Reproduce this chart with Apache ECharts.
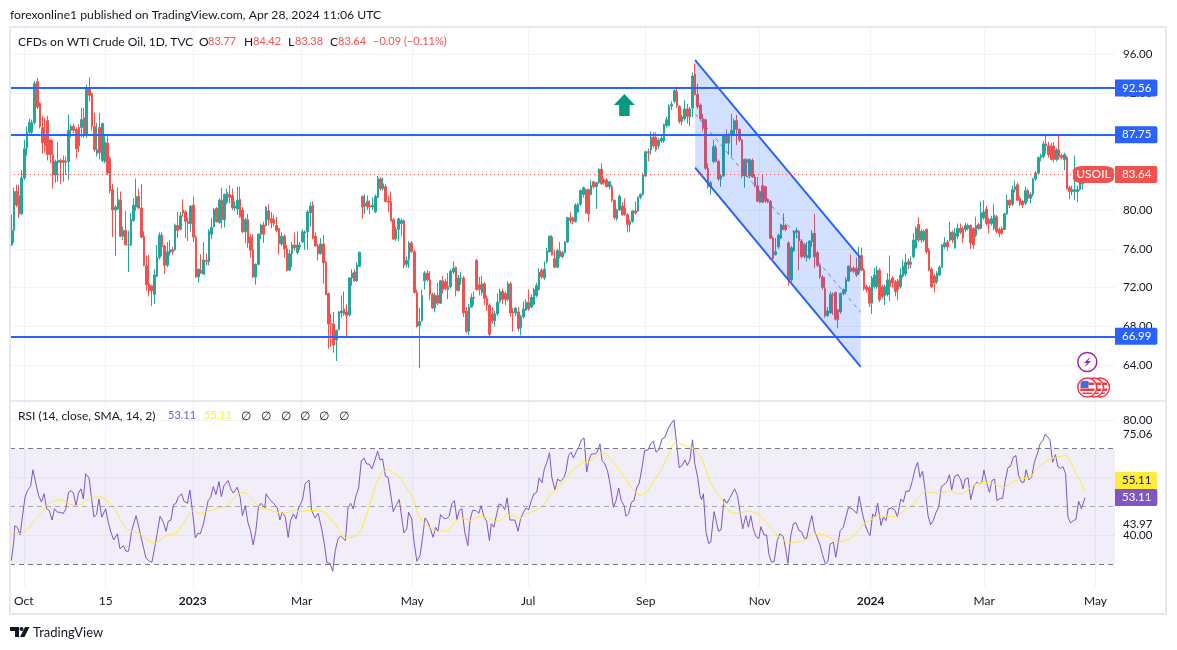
<!DOCTYPE html>
<html>
<head>
<meta charset="utf-8">
<title>USOIL</title>
<script src="https://cdn.jsdelivr.net/npm/echarts@6/dist/echarts.min.js"></script>
<style>
  html, body { margin: 0; padding: 0; background: #fff; }
  #main { width: 1177px; height: 650px; }
</style>
</head>
<body>
<div id="main"></div>
<script>
// every row is one daily bar: open, close, low, high
var ohlc = [
  [76.4,77.9,76.3,79.5],[77.9,81.9,76.6,82.3],[81.9,80.5,80.3,82.6],[81.5,79.6,79.2,82.6],[79.6,83.3,79.5,84.1],
  [83.3,86.3,83.1,87.2],[86.4,88,85.6,88.6],[88,89,87.7,89.4],[88,89,87.8,89.3],[89,93,88.8,93.3],
  [93.2,90.6,90.4,93.6],[91,88.6,88.4,91.1],[88.5,86.9,85.8,89.7],[87.6,86.6,85.9,89.5],[89.2,85.7,85.1,89.7],
  [87.2,85.7,84.8,87.3],[85.7,83.6,82.2,87.2],[83.6,85,82.8,85.2],[84.9,85.1,82.9,87],[85.1,84.9,82.7,85.3],
  [85.1,84.9,82.9,85.6],[84.9,85,83.6,85.5],[85,88.2,83.1,89.8],[88.2,88.6,87.5,88.8],[88.6,88.2,87.9,88.9],
  [88.3,86.3,85.3,88.5],[88.5,86.6,86,88.8],[88.5,89.3,87.5,90.5],[89.5,87.7,87.4,90.5],[87.7,92.5,87.4,92.9],
  [92.5,91.8,91.2,93.65],[92,88.6,88.2,92.1],[88.6,86.2,86,90],[85.8,86.2,85.5,89],[88.5,85.9,85.2,90],
  [85.1,88.9,84.9,89],[85,87,84.8,87.6],[86.9,83.8,83.6,87.7],[85.3,82,81.7,85.5],[82.1,80,77.2,82.7],
  [80,80.3,75.25,80.5],[80.1,81.1,80,82.3],[81,77.3,77.2,81.9],[77.3,77.9,76.9,78.3],[77.9,76.4,76.4,79.9],
  [76.4,76.4,73.6,77.9],[76.4,79,76.3,79.7],[78.9,80.5,78.8,81.2],[80.3,81.4,79.9,83.25],[81.4,80.2,80.1,82.2],
  [80.2,77.2,77.1,82.67],[77.3,74.3,74.2,77.8],[74.3,72.3,71.7,75.3],[72.4,71.7,71.1,75.4],[72.2,71.7,70.1,72.3],
  [71.3,73.3,70.3,73.9],[73.2,75.1,73.1,76.4],[75.1,77.4,74.9,77.7],[77.4,76.2,75.25,77.7],[76.3,74.3,73.4,76.4],
  [74.3,75.7,74.1,76.7],[75.6,75.9,75.3,76.9],[75.9,75.7,75.4,76.2],[75.9,78.45,75.8,78.6],[78.4,77.9,77.1,79.8],
  [78,79.4,77.9,79.8],[80,79.7,79.3,81.1],[79.8,78.8,77.1,80],[78.8,78.6,76.8,79.2],[78.6,80.4,77.75,80.5],
  [80.5,77.2,76.7,81.4],[77.2,73.1,73,77.4],[73.1,73.9,72.5,74],[73.8,73.5,73.4,75.45],[73.4,74.85,73.3,76.7],
  [74.8,74.7,74.3,75.5],[74.7,77.8,74.3,78],[77.5,78.2,77,79.2],[78.3,80.05,78.2,80.2],[80.15,78.8,78.7,80.3],
  [78.7,81,78.6,81.2],[81,79,78.1,82.3],[79,81.6,78.2,81.7],[80.8,81.8,80.6,82.2],[81.6,81.3,80.7,82.55],
  [81.5,80.2,80,82.2],[80.2,80.4,79.9,80.9],[80.1,81,79.5,82.4],[81.1,79.3,79.2,82.4],[80,77.75,77.6,80.3],
  [77.75,79,76.6,79.2],[79,76.6,76.1,79.6],[77.2,75.85,75.1,77.5],[75.9,73.1,73,77.5],[73.1,74.4,72.3,74.5],
  [74.4,77.5,74.3,77.6],[77.5,78.45,77,78.6],[78.45,77.5,76.6,78.8],[78.4,80.3,78.3,80.4],[79.9,79,78.4,80.6],
  [79.1,78.7,78.1,79.8],[79,78.6,78.3,79.5],[78.4,77.9,77.7,79.3],[78.1,76.5,75.4,78.1],[76.5,77.3,76.3,77.7],
  [77.3,76,75.1,77.5],[76,73.75,73.7,76.4],[73.8,75.5,73.7,75.9],[75.5,76.4,74.1,76.7],[76.4,76.1,75.8,77.7],
  [75.6,76.4,75.4,77.8],[76.2,76.4,75.9,76.7],[76.7,77.75,76.6,78],[77.6,77.75,75.9,77.9],[77.75,79.8,75.9,80],
  [79.7,80.4,78.3,80.8],[80.5,77.1,77,80.9],[77.3,76.3,76.2,77.7],[76.3,75.5,74.8,76.5],[75.5,76.5,75.4,77.1],
  [76.5,74.55,72.4,77.4],[74.6,71.3,71.2,74.8],[71.4,68.25,65.7,71.5],[68.3,68.2,65.9,69.3],[68.25,66.1,65.3,69.5],
  [66.6,67.6,64.45,67.7],[67.7,69.5,67.6,69.6],[69.4,69.6,68.9,71.2],[69.8,69.3,69.1,71.6],[69.5,69.1,67,70.3],
  [69.2,73,69,73.1],[73,73.5,72.2,73.9],[73.6,72.7,72.6,73.9],[72.7,74.3,72.6,74.6],[74.2,75.65,74.1,75.7],
  [81.4,80.3,79.1,81.5],[80.4,80.7,79.6,81.6],[80.9,80.3,80,81.5],[80.4,80.3,79.6,81],[80.3,80.5,80,81.3],
  [79.8,81.4,79.7,81.6],[81.3,83.25,81.2,83.5],[83.2,82.2,82,83.4],[82.2,82.7,82,83.3],[82.4,80.85,80.8,82.7],
  [80.9,80.8,79.8,81.5],[80.85,78.9,78.8,81.9],[79,77,76.9,79.2],[77,78,76.8,78.3],[78,79.1,76.8,79.2],
  [78.6,78.9,77.3,79.1],[78.9,74.3,74,79],[74.4,74.8,74.1,75.2],[74.9,76.6,74,76.8],[76.6,75.7,75.6,76.8],
  [75.7,71.5,71.4,75.9],[71.5,68,67.9,71.8],[68.1,68.5,63.7,69.9],[68.6,71.2,68.5,71.8],[72.7,73.5,71.8,73.7],
  [73.5,72.8,72.6,73.8],[72.8,71.3,70.7,73.7],[71.3,69.9,69.8,71.5],[69.9,71.2,69.5,71.5],[71.2,70.4,70.2,72.5],
  [70.4,72.7,70.3,72.8],[72.7,71.8,71.4,73.2],[72.6,71.9,71.7,72.9],[71.8,72.1,70.8,73.5],[72.1,73.7,71.9,73.9],
  [73.6,74,73.4,74.7],[74.1,71.7,71.1,74.2],[71.7,73,71.6,73.3],[73,73,72.3,73.6],[73,69.4,69,73.2],
  [69.6,67.5,67.3,70],[67.5,70,67.1,70.3],[70,71,69.9,71.4],[71,70.9,70.2,71.6],[74.8,71.8,71.7,74.95],
  [72.3,71.8,71.2,73.1],[71.5,72.4,71.2,73.2],[72.4,70.9,70.2,72.6],[70.9,70.2,69.6,71.2],[70.2,67.2,66.9,70.4],
  [69.3,68.6,68.3,70],[68.6,69.3,68,69.6],[69.3,70.5,69.1,71.4],[70.6,71.6,70.4,71.9],[71.6,70.8,70.3,71.9],
  [71.4,70.8,70.2,71.6],[70.8,72.4,70.6,72.7],[72.4,69.4,69,72.6],[69.5,69.4,67.5,69.9],[69.4,69.9,69.1,70],
  [69.5,67.8,67.5,70],[67.9,69,67.1,69.2],[69,69.8,68.8,70.6],[69.7,70.5,69.6,70.8],[70.5,69.8,69.6,71.8],
  [70,71,69.9,71.3],[70.3,71.8,70.2,72],[71.2,72.2,71,72.5],[71.8,73.6,71.7,74],[73.8,73.1,72.9,74],
  [73,73.9,72.8,74.7],[74.7,75.8,74.5,76.1],[75.7,77.3,75.6,77.4],[77.2,75.4,75.3,77.4],[75,74.1,74,75.9],
  [74.1,75.8,74,76],[75.8,75.2,75,76.7],[75.2,75.6,75,75.8],[75.6,76.7,75.5,76.8],[76.7,79.2,76.6,79.3],
  [79.2,78.9,78.6,79.8],[79.2,78.8,78.5,79.3],[78.8,80.5,78.7,80.7],[79.8,80.6,79.7,80.7],[80.6,82,80.4,82.1],
  [81.6,82.3,81.3,82.4],[82.1,79.7,79.6,82.2],[82.1,79.6,78.8,82.2],[81.6,82.5,81.5,83.1],[82.9,82.4,82.2,83],
  [82.4,82.8,80.1,82.9],[82.8,84.2,82.7,84.3],[84.2,82.7,82.6,84.8],[83.1,82.8,82.6,83.3],[83.1,82.4,82.3,83.3],
  [82.4,82.9,82.1,83],[82.4,81,80.8,82.6],[81,79.2,79,81.1],[79.1,80,78.9,80.1],[80,81.4,79.9,81.6],
  [80.4,79.5,79.4,80.8],[80.2,79.5,79.4,81.2],[79.5,78.5,77.7,79.7],[78.5,78.8,77.7,79],[78.8,79.9,78.7,80],
  [79.9,79.7,79.5,80.9],[79.9,81.3,79.8,81.4],[81.3,81.6,81.1,81.7],[81.6,83.6,81.5,83.8],[83.5,86,83.4,86.1],
  [86,85.9,85,86.3],[86.2,87.5,85.7,88.1],[87.5,86.6,86.4,88],[87.5,86.2,86,88],[86.6,87.2,86.3,87.4],
  [87.1,87.4,86.9,87.7],[87.1,88.8,86.9,88.9],[88.7,89.3,88.5,89.6],[88.7,90.7,88.6,90.9],[90.7,90.9,90.3,91.2],
  [91.2,92.3,91,92.4],[92.2,90.7,90.5,92.7],[90.65,89.1,88.9,90.8],[89.1,89.6,88.7,89.8],[89.4,90.4,89.2,91.3],
  [90.4,89.6,88.9,90.9],[89.6,90.4,88.6,90.6],[90.5,93.8,89.6,94.15],[94,91.9,91.8,95.05],[91.9,90.65,90.4,93],
  [90.8,89.4,89.2,91],[89.4,88.4,88.1,89.9],[89.3,84.3,84.1,89.4],[84.3,82.4,82.2,84.8],[82.4,82.8,81.55,83],
  [85,86.5,84.8,87.2],[86.4,85,84.9,86.7],[85,83.2,83,85.2],[83.2,83.5,82.4,83.7],[83.5,87.7,83.4,87.8],
  [87.7,86.9,86.8,88.3],[86.9,87.7,85.7,87.9],[87.7,88.2,85.5,89.9],[87.7,89.2,87.6,89.4],[89.2,88.3,86.7,89.8],
  [88.3,87.2,87,88.4],[87.2,83.5,83.3,87.3],[83.5,85.2,82.3,85.3],[85.2,84.9,83.4,85.3],[83.5,85.2,83.3,85.3],
  [85.1,83.4,83.3,85.3],[83.4,82.5,82.3,83.6],[82.5,80.9,80.8,83.4],[80.8,81.9,80.7,82],[82.5,80.8,80.7,83.6],
  [82.4,80.9,80.7,82.5],[81.1,80.9,80.7,81.2],[80.9,77.1,77,81],[77.1,75,74.9,77.3],[75.4,75.7,75.3,77.1],
  [76.2,77.4,76,77.6],[77.1,78.5,77,78.6],[78.4,78,77.9,79.65],[78.4,78,77.8,78.6],[76.6,72.8,72.2,76.8],
  [72.8,76.1,72.6,76.3],[75.8,77.8,75.7,77.9],[77.7,77.9,77.1,78.2],[77.8,76.8,73.8,77.9],[76.8,75.2,75,77],
  [76.4,75.2,75,76.6],[75.1,75.3,74.7,76.7],[75.1,76.8,74.9,76.9],[76.7,77.6,76.2,77.9],[77.6,75.2,74,79.6],
  [75.6,74.3,74.1,75.8],[74.3,73.1,72.9,74.4],[73.1,72,71.8,73.3],[71.9,69.1,68.9,73.1],[69.1,69.6,69,70],
  [69.4,71.3,69.3,71.6],[71.3,71.2,69.2,71.5],[71.5,68.75,68.6,71.6],[69.7,68.7,67.8,69.8],[69.5,71.4,69.3,71.5],
  [71.4,71.8,71.2,71.9],[71.6,72.8,71.4,73.1],[72.7,74.2,72.6,74.3],[74,73.7,73.6,75.4],[74,73.7,73.5,74.2],
  [74,73.3,73.1,75.1],[73.5,75,73.3,76.2],[75.3,73.8,73.7,76.1],[73.8,71.9,71.7,74],[72.1,71.8,71.5,72.3],
  [72,70.4,70,72.2],[70.4,73,69.3,73.2],[72.1,73.3,71.9,74],[72.1,73.8,71.9,74.2],[73.8,70.75,70.5,74],
  [72.1,71.1,70.9,72.3],[71.2,72.1,70.2,72.3],[71.3,72.8,71.1,73.5],[72.8,72.1,70.6,75.3],[73,72.5,72,73.2],
  [72.6,71.6,71.1,72.8],[72.7,71.8,70.7,72.9],[72.1,73.3,71.9,74],[73.2,74.2,73,74.9],[73.4,74.6,73.2,75.5],
  [74.7,74.4,73.9,75],[74.4,74.6,74,75.2],[75.2,76.9,75,77.6],[76.1,78.1,76,78.3],[78.5,76.9,76.7,79.25],
  [76.9,77.8,76.6,78],[76.9,77.8,76.7,78],[78,75.7,75.5,78.1],[75.9,73.8,73.7,76.1],[73.9,72.1,72,74.1],
  [73.2,72.5,71.5,73.4],[72.6,73.5,72.4,73.7],[73.3,74.1,73.2,74.3],[74.1,76.4,74,76.5],[76.2,76.6,76,77.2],
  [76.7,76.2,75.8,76.9],[76.9,77.75,76.7,78.8],[77.7,76.9,76.6,77.9],[76.1,77.6,76,78.1],[77.3,78.1,77,78.6],
  [78.1,77.7,77.5,78.6],[78.1,77.1,76.6,78.3],[78,78.4,77.7,78.7],[78.1,78.4,77.9,78.6],[78.4,76.6,76,78.5],
  [78.1,76.4,76,78.2],[77.4,78.4,77.2,79.3],[78.5,78.1,77.9,78.7],[78.1,79.7,78,80.9],[79.2,79.8,79,81],
  [80.1,78.6,78.4,80.4],[79,78.6,77.6,79.2],[78.6,79.1,78.4,79.4],[78.1,79.5,77.9,80.6],[79.3,77.8,77.6,79.5],
  [78,77.6,77.2,78.2],[78.1,77.6,77.4,78.3],[78,79.6,77.9,79.7],[79.6,81,79.5,81.6],[81,80.5,80.2,81.1],
  [80.6,82.1,80.4,82.5],[82.1,82.4,81.8,83],[82.6,81,80.9,82.8],[81.2,80.6,80.4,81.4],[80.9,80.5,80.2,81],
  [80.7,82,80.5,82.4],[82,81.2,80.9,82.2],[81.2,81.6,80.7,81.8],[81.6,83.2,81.4,83.3],[83.2,83.8,83,84],
  [83.8,85.4,83.7,85.5],[85.4,85.6,85,85.8],[85.5,86.8,85.3,87.1],[86.8,86.6,85.8,87.63],[86.6,85.7,85.4,87],
  [86.6,85.2,85.1,86.9],[86.6,85.2,84.9,87],[85.2,86.2,85,86.4],[86.2,85.5,85.2,87.6],[85.6,85.4,85.2,85.8],
  [85.2,85.7,84.1,85.9],[85.4,82.2,82.1,85.6],[82.3,81.9,81.1,82.5],[81.9,82.1,81.5,82.5],[81.9,82.1,81,85.6],
  [81.9,82.1,80.8,82.5],[82.1,82.8,82,83.2],[82.7,83.1,82.1,83.5],[83.77,83.64,83.38,84.42]
];

// RSI: bar position, value
var rsiPoints = [
  [0,31.2],[1,38.2],[1.3,43.3],[2.3,42.8],[3.4,40.1],[4.4,47.4],[5.3,53.2],[6.2,55.5],[7.4,56.9],[8.3,62.7],
  [9.5,57.8],[10.5,53.8],[11.6,51.5],[12.6,54.4],[13.6,49.2],[14.6,48.6],[15.7,45.3],[16.6,49.2],[17.7,48],[18.7,48],
  [20,47.6],[21,49.2],[22,54.9],[23,55.5],[23.9,54.6],[24.9,50.3],[25.8,54.6],[26.8,56.1],[27.7,52.6],[28.6,61.3],
  [29.9,59.9],[30.8,53.2],[31.8,46.3],[32.8,47.2],[33.7,52.6],[34.8,46.3],[36.3,49.2],[37.3,44.5],[38.3,41.1],[39.4,38.4],
  [40.8,40.5],[41.8,35.3],[43.1,36.4],[44.1,34.5],[45.1,34.5],[46.3,41.6],[48,46.8],[49.2,42.2],[50.5,37],[51.8,32.2],
  [53.1,31],[54.1,30.7],[55.3,36.4],[56.2,41.1],[57.2,46.6],[58.5,44.5],[59.5,41.4],[60.4,44.9],[61.4,45.3],[62.4,50.7],
  [63.2,50.9],[64.2,53.2],[65.5,54.4],[66.4,51.8],[67.7,51.1],[68.7,55.7],[69.8,47.4],[70.8,39.1],[71.8,40.7],[72.7,40.5],
  [73.9,44],[74.6,44],[75.7,52],[76.7,53.2],[77.7,56.9],[78.7,54.1],[79.9,58.6],[80.8,53.4],[81.8,57.2],[83.4,59],
  [84.4,56.1],[85.4,54.6],[86.9,56.7],[88,53.2],[88.9,46.8],[90,50.3],[91,44.5],[92,41.6],[93,36.7],[94,41.1],
  [95,49.5],[96,51.1],[97.5,49.5],[98,54.4],[99.2,52.6],[100.8,51.2],[102.3,49.5],[103.3,45.3],[104.2,48],[105.4,46.3],
  [106.5,39.3],[107.4,45.1],[108.5,47.4],[109.5,45.7],[110.5,49.5],[112,52.3],[113,57.8],[114.5,59.2],[115.5,48.6],[116.8,46],
  [118,47.6],[119.4,42.2],[120.4,37],[121.4,30.4],[122.6,30.3],[123.6,27.5],[124.6,34.7],[125.7,38.8],[126.7,39.7],[128.5,38.2],
  [129.5,49.5],[130.5,51.1],[131.5,49.2],[132.6,53.8],[133.6,56.4],[134.6,65.7],[135.6,66.8],[136.7,64.7],[137.7,64.7],[138.7,63],
  [139.8,65.9],[140.9,69.1],[141.8,66.1],[142.8,66.5],[143.9,60.4],[144.9,60.1],[145.9,54.4],[146.9,48.2],[148.2,50.7],[149.2,52.4],
  [151,40.8],[152.1,42.2],[152.8,48],[154,45.7],[155,37],[156,31],[157.2,33],[158.2,39.3],[159.1,46],[160.1,44.9],
  [161.2,42.2],[162.2,39.3],[163.2,42.8],[164.1,41.4],[165.1,47.2],[166.2,46],[167.2,45.7],[168.4,46.5],[169.4,50.9],[170.4,52],
  [171.4,45.5],[172.3,48.6],[173.3,49.2],[174.4,41.1],[175.6,36.4],[176.4,45.1],[177.4,48.6],[178.7,48.6],[179.8,47.6],[180.7,50.3],
  [181.8,46.3],[182.8,44.9],[183.9,38.2],[184.6,44],[185.6,42.8],[186.7,47.4],[187.6,50.9],[188.9,50.3],[189.8,48.9],[190.7,53],
  [191.8,45.3],[193.7,45.3],[194.9,41.4],[195.9,45.7],[197,48],[198,49.5],[199,48.8],[200,52],[201,54.4],[202.1,54.9],
  [203,59.9],[204.1,58.2],[205,63],[206,65.3],[207,68.6],[207.9,60.1],[209.1,55.7],[210.1,59.5],[211.3,58.7],[212.6,60.1],
  [213.4,62.4],[214.3,67.6],[215.3,68.8],[216.2,66.8],[217.2,68.8],[218.2,70.5],[219.3,73.1],[220.3,73.7],[221.3,61.9],[222.3,66.5],
  [223.2,68.2],[224.5,68.2],[225.4,68.8],[226.4,71.7],[227.2,65.9],[228.3,64.7],[229.3,62.4],[230.3,57.8],[231.6,49.7],[232.6,52],
  [233.6,56.4],[234.6,52],[235.7,50.3],[236.4,46.6],[237.4,47.4],[238.5,51.5],[239.5,52],[240.5,56.4],[241.5,58],[242.6,63.6],
  [243.6,69.4],[244.9,69.6],[245.9,71.7],[246.9,72.6],[248,68.8],[249,69.6],[250.3,73.4],[251.4,74],[252.6,76.9],[253.6,78.6],
  [254.9,80],[255.9,71.7],[256.9,63.4],[258,64.2],[259.1,66.1],[260,64.2],[261,66.1],[262,73.1],[262.9,64.7],[264,60.1],
  [264.9,53.8],[265.5,52.3],[266.2,54.4],[267.2,41.1],[268.2,37.2],[269,37.6],[270.3,48.2],[271,48],[272,41.4],[273,41.9],
  [274.1,52.6],[275.2,51.1],[276.4,53],[278.2,56.1],[279.3,53.8],[281.3,42.2],[282.5,46.8],[283.5,42.8],[284.4,46.8],[285.4,42.2],
  [286.4,39.6],[287.5,38.8],[288.3,43],[289.5,40.1],[290.5,40.1],[291.4,33.3],[292.4,30.7],[293.4,30.9],[294.6,38.2],[295.6,40.5],
  [296.9,39.6],[297.8,35.3],[298.7,30.3],[299.8,39.9],[300.8,44],[301.8,44.3],[303,41.6],[303.9,41.3],[304.9,39.1],[305.9,38.8],
  [306.9,43.4],[307.9,46.8],[308.9,41.6],[310,39.1],[311,36.8],[312,33.3],[313.1,30.1],[314.1,30.9],[314.9,37],[316.2,37.6],
  [317.1,32.4],[318.8,41.6],[320,42.8],[321,46.3],[322,49.7],[323.3,49.2],[325.2,47.6],[326.1,53.5],[327.4,47.4],[328.5,43.4],
  [329.5,41.1],[330.3,39.9],[331.3,47.4],[332.2,46.3],[333.2,51.1],[334.5,43.4],[335.4,46.3],[336.4,45.1],[337.3,49.2],[338.6,49.5],
  [339.9,48.6],[340.8,46.3],[342.1,52.6],[343.1,51.5],[344.1,55.3],[345.4,55.3],[346.6,59],[347.6,63],[348.6,65.3],[349.5,60.1],
  [350.5,62.2],[351.5,55.5],[352.6,46.8],[353.6,43.7],[354.6,45.1],[355.7,48],[356.7,49.7],[357.7,56.9],[358.7,57.6],[359.8,58.4],
  [360.8,61],[361.7,55.7],[362.8,60.4],[364.1,61],[365.2,59.2],[366,56.1],[366.9,59.5],[368,59.9],[369,52.3],[370.3,57.2],
  [371.3,58.4],[372.3,57.8],[373.3,58.4],[374.1,62.7],[375.1,58.4],[376.2,54.9],[377.2,59],[378.2,59.5],[379.1,52],[380.3,52.8],
  [381.3,52.8],[382.3,59],[383.3,63.4],[384.3,63.9],[385.4,67.1],[386.4,67.6],[387.4,60.7],[388.5,58.4],[389.5,58.4],[390.3,62.7],
  [391.4,59.2],[392.4,60.1],[393.5,65.3],[394.6,68.2],[395.7,71.7],[396.7,72.8],[397.7,75.1],[399.5,73],[400.5,65.3],[401.6,68],
  [402.5,63.8],[403.5,63.2],[404.5,63.8],[405.5,61.3],[406.4,46.3],[407.4,44.3],[408.5,45.1],[409.5,45.5],[410.5,51.8],[411.6,49.2],
  [413,53.11]
];

// RSI moving average: bar position, value
var rsiMaPoints = [
  [0,40.7],[1.4,41.1],[3.3,40.5],[5.3,41.3],[7.2,43],[9.1,45.5],[11,47.4],[13,49.7],[14.9,51.5],[16.8,52],
  [18.5,52.4],[20.7,51.7],[22.6,50.7],[24.9,50.3],[26.8,50.7],[28.7,52.3],[30.9,53],[34.1,53.4],[36,52.6],[37.9,51.1],
  [39.9,49.2],[41.8,45.7],[43.7,43],[45.7,41.4],[47.6,41.3],[49.5,40.5],[51.4,39.1],[53.3,37.8],[55.3,37.2],[57.2,38.4],
  [59.1,39.7],[61,40.3],[63,40.5],[64.9,42.2],[66.8,45.1],[68.7,47.6],[70,48.6],[72.2,47.6],[74.5,48],[76.4,48.6],
  [79,49.2],[82.8,50],[84.8,52],[86.7,54.1],[88.6,54.9],[90.5,54.6],[92.5,52.6],[94.4,50.7],[96.3,49.5],[98.2,49.2],
  [100.1,48.6],[102,48],[104.6,47.6],[106.5,48],[108.5,48.6],[111,48.1],[113.6,48.6],[116.8,48.6],[120,48.3],[121.9,46.8],
  [123.9,44.5],[126.4,41.3],[128.4,39.1],[130.3,39.1],[132.8,39.9],[134.8,42.2],[136.7,47.4],[138.6,52.6],[140.5,58.4],[142.4,61.9],
  [145,62.7],[146.9,61.9],[149.2,60.1],[152.1,56.4],[154.4,53.2],[156.6,46.8],[158.5,44.5],[161.7,42.2],[163.9,41.1],[166.2,41.6],
  [168.1,41.4],[170,44.2],[173.2,46],[176.4,45.1],[179.6,46.6],[182.8,46.3],[186,44.9],[187.9,45.1],[190.5,47.2],[193.1,46.8],
  [195.7,45.7],[198.2,47.4],[202.1,48.8],[204.6,50.3],[207.2,53.8],[209.8,56.3],[212.3,58.4],[215.5,62.4],[220,65.3],[221.9,65.3],
  [225.1,67.6],[227,68.6],[229,67.9],[231.6,65.3],[234.1,62.4],[236.7,59],[239.2,55.5],[241.8,53.8],[244.4,54.9],[246.9,58.4],
  [249.5,61.9],[252,66.5],[254.6,71.7],[256.6,72],[259.7,70.9],[262.9,69.9],[265.5,66.5],[268,60.7],[268.9,58],[271.3,54.9],
  [273.8,51.5],[276.4,48],[280.2,47.4],[283.5,48.6],[287.3,47.4],[290.5,44.5],[294.4,39.9],[298.8,37.2],[303,37.8],[305.3,38.2],
  [307.9,40.5],[312.3,40.3],[314.9,39.1],[318.1,37.6],[322.6,38.8],[325.2,41.1],[327.7,44],[330.3,45.1],[332.8,46.8],[340.5,46.5],
  [344.4,49.2],[347,50.9],[349.5,53.8],[351.5,55.2],[357.2,54.4],[361,55.5],[363.6,54.4],[366.2,54.4],[370,57.5],[373.9,58.4],
  [377.7,58],[381.6,56.4],[385.4,58.6],[388,59.5],[391.8,59.9],[395,63.6],[398.2,65.9],[402,67.1],[405.9,67.7],[407.8,64.7],
  [411,59],[413,55.11]
];

var priceLevels = [92.56, 87.75, 66.99];
var lastPrice = 83.64;
var lastRsi = 53.11;
var lastRsiMa = 55.11;
// the yellow tag is pushed up off the purple one on the axis, it sits on this row
var lastRsiMaTagRow = 59;
var rsiDivergenceLabels = [75.06, 43.97];
var priceTicks = [64, 68, 72, 76, 80, 84, 88, 92, 96];
var rsiGridTicks = [40, 60, 80];
var rsiLabelTicks = [40, 80];
var rsiBands = [70, 50, 30];
var timeTickBars = [4.8, 36.3, 69.8, 111.7, 154.2, 198.8, 244, 287.8, 330.5, 374.2, 417];
var timeTickLabels = ['Oct', '15', '2023', 'Mar', 'May', 'Jul', 'Sep', 'Nov', '2024', 'Mar', 'May'];
// falling channel drawn on the price pane
var channelBars = [263, 326.7];
var channelTop = [95.44, 75.05];
var channelMid = [89.9, 69.45];
var channelBottom = [84.35, 63.85];
var arrowSpot = [235.8, 90.81];
var tagSpot = 416.2;

var FONT = 'Lato';
var DARK = '#131722';
var UP = '#26a69a';
var DOWN = '#ef5350';
var BLUE = '#2962ff';
var PURPLE = '#7e57c2';
var YELLOW = '#ffeb3b';
var GRID = '#f0f3fa';
var FRAME = '#e6e8ee';

var candleData = ohlc.map(function(row, i) {
  return [i, row[0], row[1], row[2], row[3]];
});

// area above 70 only, the flat part stays on the origin
var overboughtData = rsiPoints.map(function(p) {
  return [p[0], Math.max(p[1], 70)];
});

function tagLabel(bg, color, text) {
  return {
    show: true, position: 'end', distance: 0, align: 'left',
    formatter: function(p) { return (text === undefined ? p.value : text).toFixed(2); },
    fontFamily: FONT, fontSize: 11.5, color: color,
    backgroundColor: bg, padding: [3, 6, 2, 7], borderRadius: [0, 2, 2, 0]
  };
}

function hiddenLine() {
  return { width: 1, color: 'rgba(0,0,0,0)', opacity: 1 };
}

var priceLines = priceLevels.map(function(v) {
  return { yAxis: v, lineStyle: { color: BLUE, width: 2, type: 'solid' }, label: tagLabel(BLUE, '#fff') };
});
priceLines.push({ yAxis: lastPrice, lineStyle: { color: DOWN, width: 1, type: [1, 3] }, label: tagLabel(DOWN, '#fff') });

var rsiLines = rsiBands.map(function(v) {
  return {
    yAxis: v,
    lineStyle: { color: v === 50 ? 'rgba(120,123,134,0.6)' : '#787b86', width: 1, type: [5, 4] },
    label: { show: false }
  };
});
rsiDivergenceLabels.forEach(function(v) {
  var lab = tagLabel('#fff', DARK);
  lab.padding = [1, 6, 1, 8];
  rsiLines.push({ yAxis: v, lineStyle: hiddenLine(), label: lab });
});
rsiLines.push({ yAxis: lastRsiMaTagRow, lineStyle: hiddenLine(), label: tagLabel(YELLOW, DARK, lastRsiMa) });
rsiLines.push({ yAxis: lastRsi, lineStyle: hiddenLine(), label: tagLabel(PURPLE, '#fff') });

function timeAxis(gridIndex, showLabels) {
  return {
    type: 'value', gridIndex: gridIndex, min: -0.5, max: 424.5,
    axisLine: { show: false },
    axisTick: { show: false, customValues: timeTickBars },
    splitLine: { show: true, lineStyle: { color: GRID, width: 1 } },
    axisLabel: {
      show: showLabels, customValues: timeTickBars, margin: 8,
      fontFamily: FONT, fontSize: 12, color: DARK,
      hideOverlap: false, showMinLabel: true, showMaxLabel: true,
      formatter: function(v) {
        var text = timeTickLabels[timeTickBars.indexOf(v)];
        return /^20/.test(text) ? '{b|' + text + '}' : text;
      },
      rich: { b: { fontFamily: FONT, fontSize: 12, fontWeight: 'bold', color: DARK } }
    }
  };
}

function priceAxis(gridIndex, min, max, gridTicks, labelTicks) {
  return {
    type: 'value', gridIndex: gridIndex, position: 'right', min: min, max: max,
    axisLine: { show: false },
    axisTick: { show: false, customValues: gridTicks },
    splitLine: { show: true, lineStyle: { color: GRID, width: 1 } },
    axisLabel: {
      customValues: labelTicks, margin: 8, fontFamily: FONT, fontSize: 11.5, color: DARK,
      formatter: function(v) { return v.toFixed(2); }
    }
  };
}

// channel fill, its three lines
function renderChannel(params, api) {
  var a = api.coord([channelBars[0], channelTop[0]]),
    b = api.coord([channelBars[1], channelTop[1]]),
    c = api.coord([channelBars[1], channelBottom[1]]),
    d = api.coord([channelBars[0], channelBottom[0]]),
    m0 = api.coord([channelBars[0], channelMid[0]]),
    m1 = api.coord([channelBars[1], channelMid[1]]);
  return {
    type: 'group',
    children: [
      { type: 'polygon', shape: { points: [a, b, c, d] }, style: { fill: 'rgba(41,98,255,0.2)' } },
      { type: 'line', shape: { x1: a[0], y1: a[1], x2: b[0], y2: b[1] }, style: { stroke: BLUE, lineWidth: 2 } },
      { type: 'line', shape: { x1: d[0], y1: d[1], x2: c[0], y2: c[1] }, style: { stroke: BLUE, lineWidth: 2 } },
      { type: 'line', shape: { x1: m0[0], y1: m0[1], x2: m1[0], y2: m1[1] }, style: { stroke: BLUE, lineWidth: 1, lineDash: [4, 4], opacity: 0.7 } }
    ]
  };
}

// header and legend texts: text, left edge, middle row, colour, size
var headerTexts = [
  ['forexonline1 published on TradingView.com, Apr 28, 2024 11:06 UTC', 10, 15, DARK, 12.2],
  ['CFDs on WTI Crude Oil, 1D, TVC', 18, 42, DARK, 12],
  ['O', 199, 42, DARK, 12], ['83.77', 208, 42, DOWN, 11],
  ['H', 244, 42, DARK, 12], ['84.42', 253, 42, DOWN, 11],
  ['L', 288, 42, DARK, 12], ['83.38', 295, 42, DOWN, 11],
  ['C', 330, 42, DARK, 12], ['83.64', 338, 42, DOWN, 11],
  ['\u22120.09 (\u22120.11%)', 373, 42, DOWN, 11],
  ['RSI (14, close, SMA, 14, 2)', 18, 416, DARK, 12],
  ['53.11', 168, 416, PURPLE, 11], ['55.11', 204, 416, YELLOW, 11],
  ['\u2205', 241, 416, DARK, 12], ['\u2205', 261, 416, DARK, 12], ['\u2205', 281, 416, DARK, 12],
  ['\u2205', 300, 416, DARK, 12], ['\u2205', 319, 416, DARK, 12], ['\u2205', 339, 416, DARK, 12]
];

var graphics = headerTexts.map(function(t) {
  return {
    type: 'text', left: t[1], top: t[2] - 6, z: 50, silent: true,
    style: { text: t[0], fill: t[3], font: t[4] + 'px ' + FONT, textVerticalAlign: 'top' }
  };
});

// pane frame
function frameRect(x, y, w, h) {
  return { type: 'rect', z: 40, silent: true, shape: { x: x, y: y, width: w, height: h }, style: { fill: FRAME } };
}
graphics.push(frameRect(9, 26, 1158, 2));
graphics.push(frameRect(9, 400, 1158, 2));
graphics.push(frameRect(9, 613, 1158, 2));
graphics.push(frameRect(9, 26, 2, 589));
graphics.push(frameRect(1165, 26, 2, 589));

// logo
graphics.push({
  type: 'text', left: 33, top: 626, z: 50, silent: true,
  style: { text: 'TradingView', fill: DARK, font: '13px ' + FONT }
});
graphics.push({
  type: 'polygon', z: 50, silent: true, shape: { points: [[10, 627], [19, 627], [19, 637], [15, 637], [15, 631], [10, 631]] },
  style: { fill: DARK }
});
graphics.push({ type: 'circle', z: 50, silent: true, shape: { cx: 21.5, cy: 629, r: 2 }, style: { fill: DARK } });
graphics.push({
  type: 'polygon', z: 50, silent: true, shape: { points: [[25, 627], [29.5, 627], [24.5, 637], [20, 637]] },
  style: { fill: DARK }
});

// event badges
graphics.push({ type: 'circle', z: 45, silent: true, shape: { cx: 1087.3, cy: 362, r: 9.5 }, style: { fill: '#fff', stroke: '#9c27b0', lineWidth: 1.5 } });
graphics.push({
  type: 'polygon', z: 46, silent: true,
  shape: { points: [[1090.5, 356.5], [1084, 363], [1087, 363], [1084.5, 367.5], [1091, 361], [1088, 361]] },
  style: { fill: '#9c27b0' }
});
[1100, 1094, 1087.3].forEach(function(cx, n) {
  graphics.push({ type: 'circle', z: 45 + n, silent: true, shape: { cx: cx, cy: 387.5, r: 9.5 }, style: { fill: '#fff', stroke: '#f23645', lineWidth: 1.5 } });
  graphics.push({ type: 'rect', z: 45 + n, silent: true, shape: { x: cx - 7, y: 388.5, width: 14, height: 2.5 }, style: { fill: '#f23645' } });
  graphics.push({ type: 'rect', z: 45 + n, silent: true, shape: { x: cx - 5, y: 392.5, width: 10, height: 1.5 }, style: { fill: '#f23645' } });
  graphics.push({ type: 'rect', z: 45 + n, silent: true, shape: { x: cx + 1, y: 382.5, width: 6, height: 2.5 }, style: { fill: '#f23645' } });
});
graphics.push({ type: 'rect', z: 48, silent: true, shape: { x: 1080.5, y: 381, width: 8, height: 7, r: [3, 0, 0, 0] }, style: { fill: '#3d6fe0' } });

var option = {
  animation: false,
  backgroundColor: '#fff',
  textStyle: { fontFamily: FONT },
  grid: [
    { left: 10, right: 62, top: 28, height: 372 },
    { left: 10, right: 62, top: 402, height: 185 }
  ],
  xAxis: [timeAxis(0, false), timeAxis(1, true)],
  yAxis: [
    priceAxis(0, 60.43, 98.74, priceTicks, priceTicks),
    priceAxis(1, 22.08, 86.2, rsiGridTicks, rsiLabelTicks)
  ],
  graphic: { elements: graphics },
  series: [
    {
      type: 'candlestick', xAxisIndex: 0, yAxisIndex: 0, z: 3,
      data: candleData,
      encode: { x: 0, y: [1, 2, 3, 4] },
      barWidth: 2,
      itemStyle: { color: UP, color0: DOWN, borderColor: UP, borderColor0: DOWN, borderWidth: 1 },
      markLine: { symbol: 'none', silent: true, animation: false, precision: 2, data: priceLines },
      markPoint: {
        silent: true, animation: false,
        data: [
          {
            coord: arrowSpot,
            symbol: 'path://M10 0 L20 11 L15 11 L15 22 L5 22 L5 11 L0 11 Z',
            symbolSize: [21, 22],
            itemStyle: { color: '#089981' },
            label: { show: false }
          },
          {
            coord: [tagSpot, lastPrice],
            symbol: 'roundRect',
            symbolSize: [41, 17],
            itemStyle: { color: DOWN },
            label: { show: true, formatter: 'USOIL', position: 'inside', color: '#fff', fontFamily: FONT, fontSize: 12 }
          }
        ]
      }
    },
    {
      type: 'custom', xAxisIndex: 0, yAxisIndex: 0, z: 4,
      renderItem: renderChannel, data: [[channelBars[0], channelMid[0]]], silent: true, clip: false,
      encode: { x: 0, y: 1 }
    },
    {
      type: 'line', xAxisIndex: 1, yAxisIndex: 1, z: 2, symbol: 'none', silent: true,
      data: overboughtData,
      lineStyle: { width: 0 },
      areaStyle: {
        origin: 70,
        color: new echarts.graphic.LinearGradient(0, 0, 0, 1, [
          { offset: 0, color: 'rgba(76,175,80,0.28)' },
          { offset: 1, color: 'rgba(76,175,80,0)' }
        ])
      }
    },
    {
      type: 'line', xAxisIndex: 1, yAxisIndex: 1, z: 3, symbol: 'none', silent: true,
      data: rsiPoints,
      lineStyle: { color: PURPLE, width: 1 },
      markArea: {
        silent: true, animation: false,
        itemStyle: { color: 'rgba(126,87,194,0.1)' },
        data: [[{ yAxis: 70 }, { yAxis: 30 }]]
      },
      markLine: { symbol: 'none', silent: true, animation: false, precision: 2, data: rsiLines }
    },
    {
      type: 'line', xAxisIndex: 1, yAxisIndex: 1, z: 3, symbol: 'none', silent: true,
      data: rsiMaPoints,
      lineStyle: { color: YELLOW, width: 1 }
    }
  ]
};

var myChart = echarts.init(document.getElementById('main'));
myChart.setOption(option);
</script>
</body>
</html>
